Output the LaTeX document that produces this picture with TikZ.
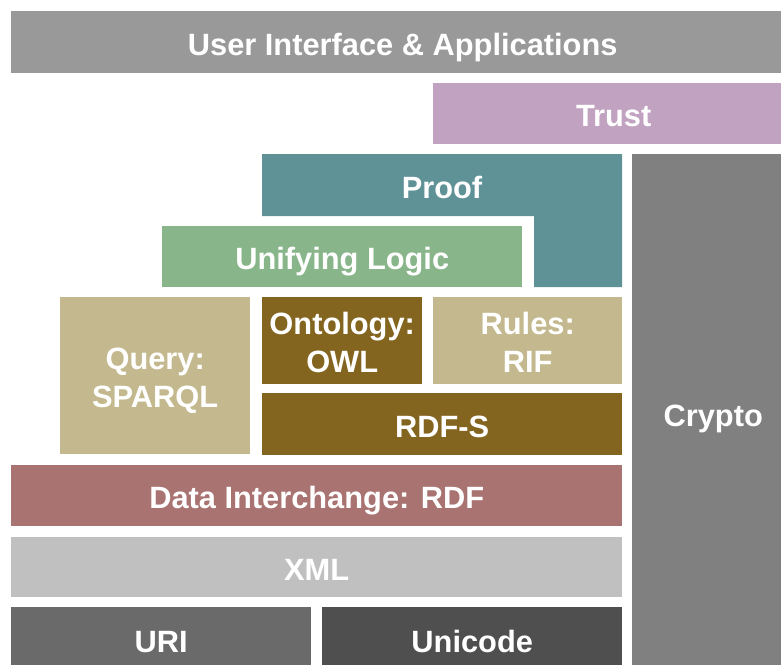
\documentclass[tikz,border=0pt]{standalone}
\usepackage{fontspec}
\setmainfont{Liberation Sans}
\usepackage{xcolor}
\usetikzlibrary{positioning}
\definecolor{SWgray}{HTML}{999999}
\definecolor{SWtrust}{HTML}{C1A3C1}
\definecolor{SWproof}{HTML}{5E9297}
\definecolor{SWlogic}{HTML}{88B58A}
\definecolor{SWtan}{HTML}{C4B98E}
\definecolor{SWbrown}{HTML}{836520}
\definecolor{SWrdf}{HTML}{A87371}
\definecolor{SWxml}{HTML}{C0C0C0}
\definecolor{SWuri}{HTML}{6A6A6A}
\definecolor{SWuni}{HTML}{4F4F4F}
\definecolor{SWcrypto}{HTML}{808080}

\begin{document}
\begin{tikzpicture}[
 x=1pt,y=-1pt,
 label/.style={inner sep=0pt,align=center,text=white,text height=26pt,text depth=0pt,font=\fontsize{30.8}{38}\selectfont\bfseries},
 layer/.style={label,anchor=north west},
 twoline/.style={text height=64pt}
]
\useasboundingbox (0,0) rectangle (781,664);
\clip (0,0) rectangle (781,664);
\fill[white] (0,0) rectangle (781,664);
\node[layer,fill=SWgray,minimum width=783pt,minimum height=62pt] (ui) at (11,11) {User Interface \& Applications};
\node[layer,fill=SWtrust,minimum width=361pt,minimum height=61pt] (trust) at (433,83) {Trust};
\node[layer,fill=SWcrypto,minimum width=162pt,minimum height=518pt] (crypto) at (632,154) {Crypto};
% proof wraps round the logic layer
\fill[SWproof] (262,154) -- (622,154) -- (622,287) -- (534,287) -- (534,216) -- (262,216) -- cycle;
\node[label] (proof) at (442,185) {Proof};
\node[layer,fill=SWlogic,minimum width=360pt,minimum height=61pt] (logic) at (162,226) {Unifying Logic};
\node[layer,twoline,fill=SWtan,minimum width=190pt,minimum height=157pt] (query) at (60,297) {Query:\\SPARQL};
\node[layer,twoline,fill=SWbrown,minimum width=160pt,minimum height=87pt] (owl) at (262,297) {Ontology:\\OWL};
\node[layer,twoline,fill=SWtan,minimum width=189pt,minimum height=87pt] (rif) at (433,297) {Rules:\\RIF};
\node[layer,fill=SWbrown,minimum width=360pt,minimum height=62pt] (rdfs) at (262,393) {RDF-S};
\node[layer,fill=SWrdf,minimum width=611pt,minimum height=61pt] (rdf) at (11,465) {Data Interchange: RDF};
\node[layer,fill=SWxml,minimum width=611pt,minimum height=60pt] (xml) at (11,537) {XML};
\node[layer,fill=SWuri,minimum width=300pt,minimum height=65pt] (uri) at (11,607) {URI};
\node[layer,fill=SWuni,minimum width=300pt,minimum height=65pt] (unicode) at (322,607) {Unicode};
\end{tikzpicture}
\end{document}
